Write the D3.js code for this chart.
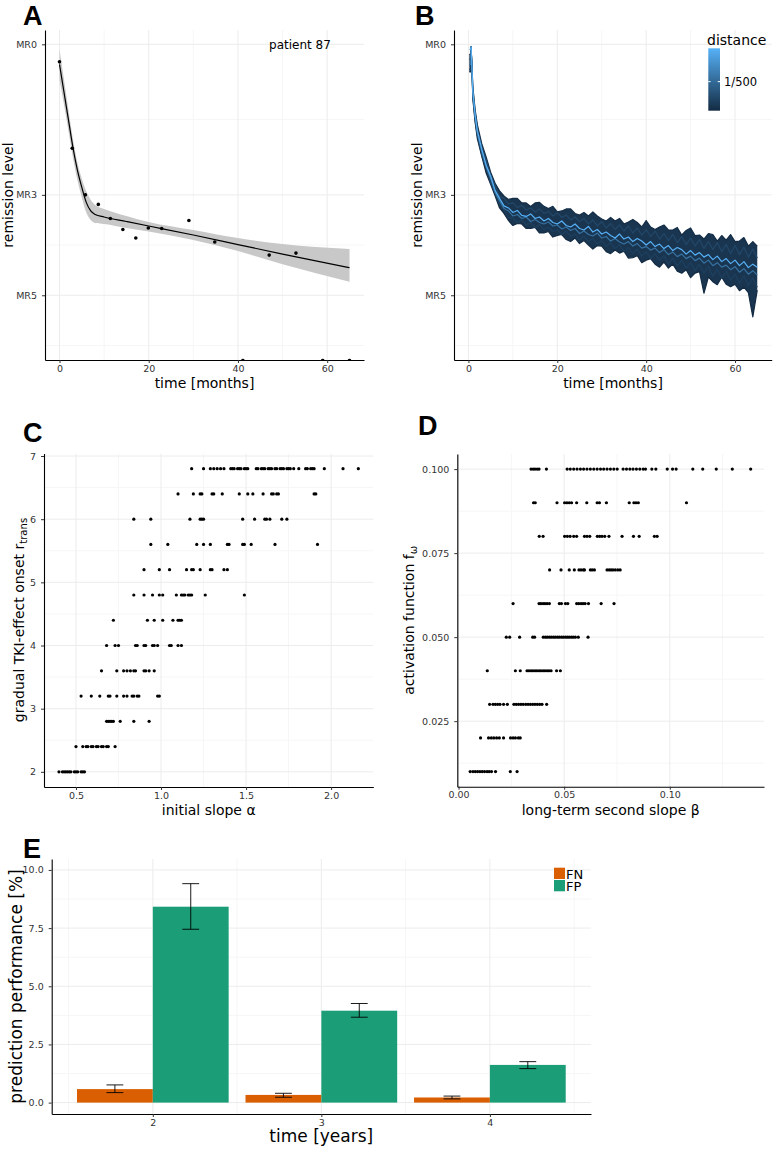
<!DOCTYPE html>
<html>
<head>
<meta charset="utf-8">
<script src="https://cdn.jsdelivr.net/npm/d3@7"></script>
<style>
  body { margin: 0; background: #fff; }
  text { font-family: "DejaVu Sans", sans-serif; }
  .tick text { fill: #333; font-size: 9.5px; font-family: "DejaVu Sans", sans-serif; }
  .tick line { stroke: #333; }
  .domain { stroke: #000; stroke-width: 1.1; }
  .plabel { font-family: "Liberation Sans", Arial, sans-serif; font-weight: bold; font-size: 27px; }
</style>
</head>
<body>
<svg id="fig" width="773" height="1150"></svg>
<script>
// ---- panel A : one patient, measurements + biphasic fit
const aTime  = [0, 2.85, 5.8, 8.7, 11.4, 14.2, 17.1, 19.9, 22.9, 29.0, 34.8, 41.1, 47.0, 53.0, 59.0, 65.0];
const aLevel = [0.35, 2.07, 3.0, 3.19, 3.47, 3.69, 3.86, 3.66, 3.67, 3.51, 3.94, 6.3, 4.20, 4.16, 6.3, 6.3];
const aFitTime   = [0, 1, 2, 3, 4, 5, 6, 7, 8, 10, 15, 20, 30, 40, 50, 65];
const aFitLevel  = [0.4, 0.95, 1.5, 2.05, 2.5, 2.85, 3.15, 3.32, 3.39, 3.44, 3.53, 3.62, 3.8, 3.99, 4.18, 4.45];
const aBandUpper = [0.1, 0.7, 1.3, 1.88, 2.35, 2.68, 2.93, 3.1, 3.2, 3.28, 3.42, 3.54, 3.7, 3.86, 3.98, 4.08];
const aBandLower = [0.7, 1.2, 1.72, 2.25, 2.7, 3.05, 3.35, 3.5, 3.56, 3.58, 3.66, 3.73, 3.9, 4.12, 4.38, 4.73];
const mrTicks = [0, 3, 5];

// ---- panel B : simulated trajectories
const bTime = [0.2, 0.5, 0.6, 1, 1.5, 2, 3, 4, 5, 6, 7, 8, 9, 10, 11, 12, 13, 14, 15, 16, 17, 18, 19, 20,
  21, 22, 23, 24, 25, 26, 27, 28, 29, 30, 31, 32, 33, 34, 35, 36, 37, 38, 39, 40, 41, 42, 43, 44, 45,
  46, 47, 48, 49, 50, 51, 52, 53, 54, 55, 56, 57, 58, 59, 60, 61, 62, 63, 64, 65];
const bTop = [0.2, 0.2, 0.05, 0.85, 1.3, 1.6, 1.98, 2.25, 2.55, 2.77, 2.92, 3.02, 3.09, 3.07, 3.07, 3.16, 3.16, 3.23,
  3.16, 3.15, 3.23, 3.27, 3.23, 3.34, 3.32, 3.28, 3.28, 3.37, 3.40, 3.35, 3.42, 3.34, 3.42, 3.48, 3.52, 3.45, 3.52,
  3.47, 3.58, 3.54, 3.49, 3.55, 3.64, 3.51, 3.64, 3.69, 3.64, 3.60, 3.70, 3.70, 3.65, 3.80, 3.71, 3.66, 3.81, 3.80,
  3.88, 3.77, 3.79, 3.92, 3.81, 3.90, 3.79, 3.93, 3.92, 3.85, 4.02, 3.93, 4.02];
const bUpper = [0.3, 0.3, 0.05, 0.9, 1.35, 1.65, 2.04, 2.31, 2.60, 2.81, 3.03, 3.07, 3.18, 3.16, 3.25, 3.21, 3.30, 3.26,
  3.34, 3.28, 3.37, 3.33, 3.42, 3.36, 3.45, 3.40, 3.50, 3.44, 3.53, 3.47, 3.58, 3.50, 3.62, 3.53, 3.66, 3.57, 3.69,
  3.60, 3.72, 3.62, 3.76, 3.66, 3.80, 3.69, 3.83, 3.72, 3.88, 3.77, 3.91, 3.79, 3.95, 3.83, 3.99, 3.86, 4.02, 3.89,
  4.07, 3.93, 4.09, 3.95, 4.13, 3.99, 4.17, 4.01, 4.19, 4.04, 4.24, 4.08, 4.26];
const bCenter = [0.1, 0.1, 0.05, 0.95, 1.4, 1.72, 2.09, 2.41, 2.63, 2.91, 3.07, 3.22, 3.26, 3.35, 3.31, 3.41, 3.43, 3.38,
  3.47, 3.44, 3.52, 3.47, 3.55, 3.58, 3.52, 3.61, 3.64, 3.58, 3.67, 3.70, 3.63, 3.74, 3.69, 3.78, 3.74, 3.81, 3.86,
  3.78, 3.88, 3.84, 3.93, 3.87, 3.92, 4.00, 3.93, 4.03, 3.98, 4.07, 4.01, 4.11, 4.05, 4.09, 4.18, 4.11, 4.20, 4.15,
  4.24, 4.19, 4.29, 4.22, 4.33, 4.27, 4.37, 4.30, 4.41, 4.33, 4.45, 4.38, 4.44];
const bMid = [0.4, 0.4, 0.05, 1.0, 1.45, 1.78, 2.14, 2.45, 2.68, 2.95, 3.12, 3.27, 3.32, 3.42, 3.39, 3.47, 3.44, 3.53,
  3.49, 3.55, 3.58, 3.54, 3.62, 3.60, 3.68, 3.64, 3.71, 3.67, 3.77, 3.72, 3.79, 3.82, 3.76, 3.86, 3.83, 3.92, 3.87,
  3.94, 3.98, 3.93, 4.02, 3.97, 4.06, 4.03, 4.10, 4.06, 4.15, 4.09, 4.19, 4.14, 4.23, 4.18, 4.27, 4.22, 4.31, 4.26,
  4.36, 4.30, 4.41, 4.35, 4.44, 4.40, 4.49, 4.43, 4.54, 4.47, 4.58, 4.51, 4.60];
const bLower = [0.5, 0.5, 0.05, 1.05, 1.5, 1.82, 2.21, 2.47, 2.77, 2.97, 3.2, 3.3, 3.45, 3.46, 3.55, 3.5, 3.6, 3.55,
  3.65, 3.59, 3.69, 3.64, 3.73, 3.7, 3.79, 3.72, 3.83, 3.78, 3.9, 3.82, 3.93, 3.87, 3.98, 3.91, 4.03, 3.95, 4.07,
  3.99, 4.13, 4.05, 4.17, 4.08, 4.22, 4.13, 4.27, 4.17, 4.31, 4.21, 4.38, 4.26, 4.42, 4.3, 4.46, 4.35, 4.51, 4.38,
  4.56, 4.42, 4.62, 4.48, 4.66, 4.52, 4.7, 4.58, 4.76, 4.61, 4.8, 4.66, 4.84];
const bBottom = [0.55, 0.55, 0.05, 1.1, 1.55, 1.88, 2.23, 2.57, 2.79, 3.02, 3.26, 3.37, 3.51, 3.61, 3.57, 3.58, 3.67, 3.67,
  3.65, 3.76, 3.76, 3.73, 3.84, 3.81, 3.79, 3.89, 3.93, 3.86, 3.97, 3.91, 4.00, 4.08, 4.01, 4.02, 4.13, 4.17, 4.10,
  4.16, 4.12, 4.26, 4.25, 4.21, 4.35, 4.30, 4.27, 4.38, 4.44, 4.34, 4.46, 4.38, 4.52, 4.56, 4.49, 4.65, 4.56, 4.53,
  4.96, 4.64, 4.73, 4.79, 4.64, 4.78, 4.83, 4.78, 4.91, 4.84, 4.95, 5.43, 4.90];
const bDistance = [0.00128, 0.00125, 0.0016, 0.0015, 0.0021, 0.00286];
const distanceRange = [0.00125, 0.00286];

// ---- panel C : onset vs initial slope
const cOnset = [2, 2.4, 2.8, 3.2, 3.6, 4, 4.4, 4.8, 5.2, 5.6, 6, 6.4, 6.8];
const cSlope = [
  [0.40, 0.42, 0.43, 0.44, 0.45, 0.46, 0.47, 0.49, 0.50, 0.51, 0.53, 0.54, 0.55],
  [0.50, 0.54, 0.56, 0.57, 0.59, 0.60, 0.62, 0.63, 0.65, 0.66, 0.68, 0.69, 0.73],
  [0.68, 0.69, 0.70, 0.71, 0.72, 0.76, 0.84, 0.93],
  [0.53, 0.59, 0.64, 0.69, 0.70, 0.74, 0.78, 0.80, 0.83, 0.84, 0.86, 0.87, 0.98, 0.99],
  [0.65, 0.74, 0.78, 0.80, 0.82, 0.84, 0.85, 0.90, 0.91, 0.93, 0.96],
  [0.68, 0.73, 0.75, 0.85, 0.86, 0.90, 0.91, 0.95, 0.96, 0.98, 1.05, 1.06, 1.10, 1.12],
  [0.72, 0.92, 0.96, 1.01, 1.07, 1.10, 1.11, 1.12],
  [0.84, 0.90, 0.95, 0.99, 1.01, 1.09, 1.12, 1.13, 1.14, 1.16, 1.17, 1.18, 1.26, 1.49],
  [0.90, 0.99, 1.05, 1.15, 1.18, 1.19, 1.23, 1.29, 1.30, 1.37, 1.39],
  [0.94, 1.04, 1.21, 1.25, 1.29, 1.39, 1.40, 1.48, 1.49, 1.53, 1.67, 1.92],
  [0.84, 0.94, 1.17, 1.23, 1.24, 1.25, 1.48, 1.55, 1.61, 1.62, 1.64, 1.71, 1.74],
  [1.10, 1.19, 1.23, 1.24, 1.30, 1.31, 1.36, 1.46, 1.51, 1.54, 1.60, 1.65, 1.66, 1.68, 1.69, 1.90, 1.91],
  [1.18, 1.25, 1.29, 1.31, 1.33, 1.35, 1.37, 1.41, 1.42, 1.43, 1.45, 1.46, 1.47, 1.49, 1.50, 1.51, 1.56,
   1.57, 1.59, 1.60, 1.61, 1.63, 1.64, 1.65, 1.67, 1.68, 1.70, 1.71, 1.72, 1.74, 1.75, 1.76, 1.78, 1.81,
   1.85, 1.86, 1.88, 1.89, 1.90, 1.96, 2.07, 2.16]
];

// ---- panel D : activation function vs long-term slope
const dActivation = [0.01, 0.02, 0.03, 0.04, 0.05, 0.06, 0.07, 0.08, 0.09, 0.10];
const dSlope = [
  [0.0055, 0.0068, 0.0079, 0.0090, 0.0101, 0.0112, 0.0123, 0.0135, 0.0145, 0.0156, 0.0175, 0.0245, 0.0277],
  [0.0104, 0.0142, 0.0155, 0.0167, 0.0180, 0.0193, 0.0213, 0.0246, 0.0258, 0.0269, 0.0283, 0.0292],
  [0.0147, 0.0163, 0.0174, 0.0185, 0.0196, 0.0213, 0.0231, 0.0262, 0.0273, 0.0284, 0.0295, 0.0306, 0.0318,
   0.0329, 0.0340, 0.0351, 0.0362, 0.0373, 0.0384, 0.0395, 0.0417],
  [0.0136, 0.0269, 0.0292, 0.0324, 0.0333, 0.0343, 0.0352, 0.0362, 0.0371, 0.0381, 0.0390, 0.0400, 0.0409,
   0.0419, 0.0428, 0.0438, 0.0464, 0.0482],
  [0.0226, 0.0242, 0.0289, 0.0351, 0.0360, 0.0401, 0.0411, 0.0420, 0.0430, 0.0439, 0.0449, 0.0458, 0.0468,
   0.0477, 0.0487, 0.0496, 0.0506, 0.0515, 0.0524, 0.0534, 0.0543, 0.0553, 0.0567, 0.0613],
  [0.0258, 0.0381, 0.0390, 0.0400, 0.0409, 0.0419, 0.0430, 0.0477, 0.0487, 0.0506, 0.0517, 0.0559, 0.0569,
   0.0580, 0.0589, 0.0599, 0.0615, 0.0675, 0.0736],
  [0.0431, 0.0485, 0.0524, 0.0548, 0.0570, 0.0580, 0.0591, 0.0596, 0.0624, 0.0633, 0.0643, 0.0703, 0.0713,
   0.0722, 0.0731, 0.0742, 0.0754, 0.0765],
  [0.0382, 0.0400, 0.0502, 0.0515, 0.0528, 0.0545, 0.0559, 0.0596, 0.0608, 0.0621, 0.0657, 0.0668, 0.0679,
   0.0692, 0.0712, 0.0774, 0.0828, 0.0855, 0.0927, 0.0940],
  [0.0355, 0.0363, 0.0466, 0.0502, 0.0513, 0.0524, 0.0535, 0.0559, 0.0607, 0.0656, 0.0667, 0.0700, 0.0808,
   0.0830, 0.0840, 0.0851, 0.1079],
  [0.0343, 0.0353, 0.0362, 0.0372, 0.0381, 0.0416, 0.0514, 0.0529, 0.0545, 0.0561, 0.0577, 0.0592, 0.0608,
   0.0624, 0.0640, 0.0656, 0.0672, 0.0687, 0.0703, 0.0719, 0.0735, 0.0751, 0.0779, 0.0795, 0.0811, 0.0826,
   0.0842, 0.0858, 0.0874, 0.0885, 0.0915, 0.0934, 0.0988, 0.1013, 0.1030, 0.1109, 0.1156, 0.1220, 0.1296, 0.1383]
];

// ---- panel E : prediction performance
const eYears = [2, 3, 4];
const eFN = [0.58, 0.33, 0.22];
const eFNlo = [0.43, 0.23, 0.16];
const eFNhi = [0.76, 0.40, 0.28];
const eFP = [8.42, 3.95, 1.62];
const eFPlo = [7.45, 3.67, 1.46];
const eFPhi = [9.41, 4.26, 1.76];
const eColors = {FN: "#D95F02", FP: "#1B9E77"};

const svg = d3.select("#fig");
svg.append("rect").attr("width", 773).attr("height", 1150).attr("fill", "#fff");

function grid(g, x, y, xMajor, xMinor, yMajor, yMinor) {
  const [x0, x1] = x.range(), [y0, y1] = y.range();
  const gg = g.append("g");
  gg.selectAll(".vmin").data(xMinor).join("line")
    .attr("x1", x).attr("x2", x).attr("y1", y0).attr("y2", y1).attr("stroke", "#f6f6f6");
  gg.selectAll(".hmin").data(yMinor).join("line")
    .attr("y1", y).attr("y2", y).attr("x1", x0).attr("x2", x1).attr("stroke", "#f6f6f6");
  gg.selectAll(".vmaj").data(xMajor).join("line")
    .attr("x1", x).attr("x2", x).attr("y1", y0).attr("y2", y1).attr("stroke", "#ececec");
  gg.selectAll(".hmaj").data(yMajor).join("line")
    .attr("y1", y).attr("y2", y).attr("x1", x0).attr("x2", x1).attr("stroke", "#ececec");
}

function axes(g, x, y, xTicks, yTicks, xFmt, yFmt) {
  g.append("g").attr("transform", "translate(0," + y.range()[0] + ")")
    .call(d3.axisBottom(x).tickValues(xTicks).tickFormat(xFmt).tickSize(3).tickPadding(2).tickSizeOuter(0));
  g.append("g").attr("transform", "translate(" + x.range()[0] + ",0)")
    .call(d3.axisLeft(y).tickValues(yTicks).tickFormat(yFmt).tickSize(3).tickPadding(5).tickSizeOuter(0));
  g.selectAll(".tick text").attr("font-size", null);
}

function clip(id, x, y) {
  svg.append("clipPath").attr("id", id).append("rect")
    .attr("x", x.range()[0]).attr("y", y.range()[1])
    .attr("width", x.range()[1] - x.range()[0]).attr("height", y.range()[0] - y.range()[1]);
}

function yTitle(g, x, cy, size, label, sub) {
  const t = g.append("text").attr("transform", "translate(" + x + "," + cy + ")rotate(-90)")
    .attr("text-anchor", "middle").attr("font-size", size).attr("fill", "#000").text(label);
  if (sub) t.append("tspan").attr("font-size", size * 0.72).attr("dy", 3).text(sub);
}

function xTitle(g, cx, y, size, label) {
  g.append("text").attr("x", cx).attr("y", y).attr("text-anchor", "middle")
    .attr("font-size", size).attr("fill", "#000").text(label);
}

const mrFmt = d => "MR" + d;

// ================= A
const gA = svg.append("g");
const xA = d3.scaleLinear().domain([-3.25, 68.25]).range([45, 364]);
const yA = d3.scaleLinear().domain([6.29, -0.285]).range([360, 30]);
grid(gA, xA, yA, [0, 20, 40, 60], [10, 30, 50], mrTicks, [1.5, 4, 6]);
clip("clipA", xA, yA);
const pA = gA.append("g").attr("clip-path", "url(#clipA)");
pA.append("path").datum(aFitTime.map((t, i) => [t, aBandUpper[i], aBandLower[i]]))
  .attr("fill", "#c8c8c8")
  .attr("d", d3.area().curve(d3.curveMonotoneX).x(d => xA(d[0])).y0(d => yA(d[1])).y1(d => yA(d[2])));
pA.append("path").datum(aFitTime.map((t, i) => [t, aFitLevel[i]]))
  .attr("fill", "none").attr("stroke", "#000").attr("stroke-width", 1.2)
  .attr("d", d3.line().curve(d3.curveMonotoneX).x(d => xA(d[0])).y(d => yA(d[1])));
pA.selectAll("circle").data(aTime.map((t, i) => [t, aLevel[i]])).join("circle")
  .attr("cx", d => xA(d[0])).attr("cy", d => yA(d[1])).attr("r", 1.8).attr("fill", "#000");
axes(gA, xA, yA, [0, 20, 40, 60], mrTicks, d3.format("d"), mrFmt);
gA.append("text").attr("x", 300).attr("y", 49).attr("text-anchor", "middle")
  .attr("font-family", "Liberation Sans, Arial, sans-serif").attr("font-size", 12).text("patient 87");
yTitle(gA, 13, 195, 14, "remission level");
xTitle(gA, 204.5, 388, 14, "time [months]");
svg.append("text").attr("class", "plabel").attr("x", 23).attr("y", 25).text("A");

// ================= B
const gB = svg.append("g");
const xB = d3.scaleLinear().domain([-3.25, 68.25]).range([454, 771.7]);
const yB = d3.scaleLinear().domain([6.29, -0.285]).range([360, 30]);
grid(gB, xB, yB, [0, 20, 40, 60], [10, 30, 50], mrTicks, [1.5, 4, 6]);
clip("clipB", xB, yB);
const colorB = d3.scaleLinear().domain(distanceRange).range(["#132B43", "#56B1F7"]);
const pB = gB.append("g").attr("clip-path", "url(#clipB)");
// the dense overlap of trajectories between the outermost runs
pB.append("path").datum(bTime.map((t, i) => [t, bTop[i], bBottom[i]]))
  .attr("fill", "#1a3550")
  .attr("d", d3.area().x(d => xB(d[0])).y0(d => yB(d[1])).y1(d => yB(d[2])));
const bLines = [bTop, bBottom, bUpper, bLower, bMid, bCenter];
const lineB = d3.line().defined(d => d[1] != null && d[0] != null).x(d => xB(d[0])).y(d => yB(d[1]));
pB.append("g").selectAll("path")
  .data(bLines.map((vals, k) => ({dist: bDistance[k], pts: vals.map((v, i) => [bTime[i], v])})))
  .join("path").attr("fill", "none").attr("stroke-width", 1.2).attr("stroke-linejoin", "round")
  .attr("stroke", d => colorB(d.dist)).attr("d", d => lineB(d.pts));
axes(gB, xB, yB, [0, 20, 40, 60], mrTicks, d3.format("d"), mrFmt);
yTitle(gB, 421.5, 195, 14, "remission level");
xTitle(gB, 613, 388, 14, "time [months]");
svg.append("text").attr("class", "plabel").attr("x", 415).attr("y", 25).text("B");

// colour bar legend
const grad = svg.append("defs").append("linearGradient").attr("id", "distGrad")
  .attr("x1", 0).attr("y1", 1).attr("x2", 0).attr("y2", 0);
grad.append("stop").attr("offset", 0).attr("stop-color", colorB(distanceRange[0]));
grad.append("stop").attr("offset", 1).attr("stop-color", colorB(distanceRange[1]));
const legY = d3.scaleLinear().domain(distanceRange).range([110.7, 48.3]);
gB.append("text").attr("x", 707).attr("y", 45).attr("font-size", 14).text("distance");
gB.append("rect").attr("x", 708.3).attr("y", 48.3).attr("width", 11.7).attr("height", 62.4)
  .attr("fill", "url(#distGrad)");
const ty = legY(1 / 500);
gB.append("line").attr("x1", 708.3).attr("x2", 710.6).attr("y1", ty).attr("y2", ty).attr("stroke", "#fff");
gB.append("line").attr("x1", 717.7).attr("x2", 720).attr("y1", ty).attr("y2", ty).attr("stroke", "#fff");
gB.append("text").attr("x", 724).attr("y", ty + 4.2).attr("font-size", 11.5).text("1/500");

// ================= C
const gC = svg.append("g");
const xC = d3.scaleLinear().domain([0.312, 2.248]).range([44, 373.3]);
const yC = d3.scaleLinear().domain([1.76, 7.04]).range([787, 453.5]);
grid(gC, xC, yC, [0.5, 1, 1.5, 2], [0.75, 1.25, 1.75], [2, 3, 4, 5, 6, 7], [2.5, 3.5, 4.5, 5.5, 6.5]);
gC.append("g").selectAll("circle")
  .data(cOnset.flatMap((r, i) => cSlope[i].map(a => [a, r])))
  .join("circle").attr("cx", d => xC(d[0])).attr("cy", d => yC(d[1])).attr("r", 1.6).attr("fill", "#000");
axes(gC, xC, yC, [0.5, 1, 1.5, 2], [2, 3, 4, 5, 6, 7], d3.format(".1f"), d3.format("d"));
yTitle(gC, 24, 620, 14, "gradual TKI-effect onset r", "trans");
xTitle(gC, 208.7, 815, 14, "initial slope \u03b1");
svg.append("text").attr("class", "plabel").attr("x", 23).attr("y", 442).text("C");

// ================= D
const gD = svg.append("g");
const xD = d3.scaleLinear().domain([-0.0006, 0.1446]).range([457.3, 764]);
const yD = d3.scaleLinear().domain([0.0055, 0.1045]).range([786.7, 454]);
grid(gD, xD, yD, [0, 0.05, 0.1], [0.025, 0.075, 0.125], [0.025, 0.05, 0.075, 0.1], [0.0125, 0.0375, 0.0625, 0.0875]);
gD.append("g").selectAll("circle")
  .data(dActivation.flatMap((r, i) => dSlope[i].map(b => [b, r])))
  .join("circle").attr("cx", d => xD(d[0])).attr("cy", d => yD(d[1])).attr("r", 1.6).attr("fill", "#000");
axes(gD, xD, yD, [0, 0.05, 0.1], [0.025, 0.05, 0.075, 0.1], d3.format(".2f"), d3.format(".3f"));
yTitle(gD, 414, 620.3, 14, "activation function f", "\u03c9");
xTitle(gD, 610.7, 815, 14, "long-term second slope \u03b2");
svg.append("text").attr("class", "plabel").attr("x", 418).attr("y", 435).text("D");

// ================= E
const gE = svg.append("g");
const xE = d3.scaleLinear().domain([1.4, 4.6]).range([51.7, 591]);
const yE = d3.scaleLinear().domain([-0.49, 10.47]).range([1114, 859]);
grid(gE, xE, yE, eYears, [1.5, 2.5, 3.5, 4.5], [0, 2.5, 5, 7.5, 10], [1.25, 3.75, 6.25, 8.75]);
const eRows = eYears.flatMap((yr, i) => [
  {key: "FN", x0: yr - 0.45, x1: yr, v: eFN[i], lo: eFNlo[i], hi: eFNhi[i]},
  {key: "FP", x0: yr, x1: yr + 0.45, v: eFP[i], lo: eFPlo[i], hi: eFPhi[i]}
]);
gE.append("g").selectAll("rect").data(eRows).join("rect")
  .attr("x", d => xE(d.x0)).attr("width", d => xE(d.x1) - xE(d.x0))
  .attr("y", d => yE(d.v)).attr("height", d => yE(0) - yE(d.v))
  .attr("fill", d => eColors[d.key]);
const eb = gE.append("g").attr("stroke", "#000").attr("stroke-width", 0.9);
eRows.forEach(d => {
  const cx = (d.x0 + d.x1) / 2;
  eb.append("line").attr("x1", xE(cx)).attr("x2", xE(cx)).attr("y1", yE(d.lo)).attr("y2", yE(d.hi));
  [d.lo, d.hi].forEach(v => eb.append("line").attr("x1", xE(cx - 0.05)).attr("x2", xE(cx + 0.05))
    .attr("y1", yE(v)).attr("y2", yE(v)));
});
axes(gE, xE, yE, eYears, [0, 2.5, 5, 7.5, 10], d3.format("d"), d3.format(".1f"));
["FN", "FP"].forEach((k, i) => {
  gE.append("rect").attr("x", 554).attr("y", 867.7 + i * 12.3).attr("width", 11).attr("height", 11.3)
    .attr("fill", eColors[k]);
  gE.append("text").attr("x", 566).attr("y", 878.5 + i * 12.3).attr("font-size", 13).text(k);
});
yTitle(gE, 22, 986.5, 17, "prediction performance [%]");
xTitle(gE, 321.3, 1142, 17, "time [years]");
svg.append("text").attr("class", "plabel").attr("x", 23).attr("y", 858).text("E");
</script>
</body>
</html>
